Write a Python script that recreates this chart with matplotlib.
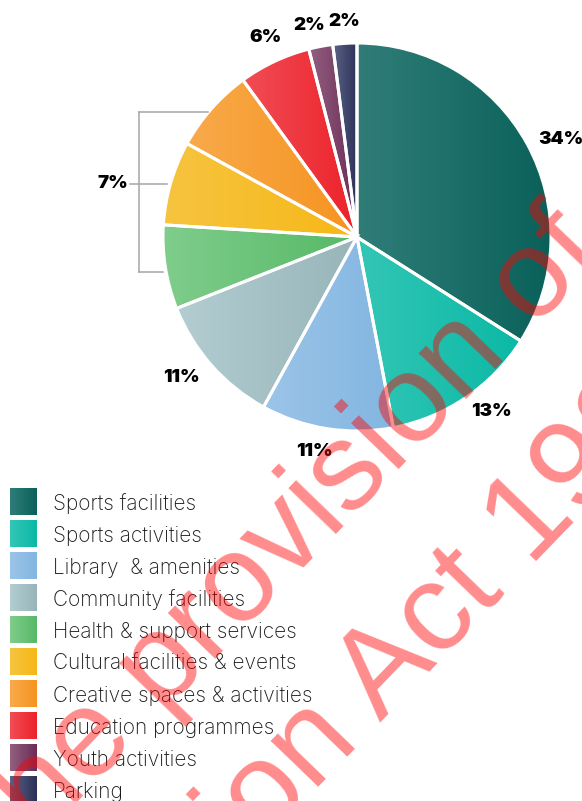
import numpy as np
import matplotlib
matplotlib.use("Agg")
import matplotlib.pyplot as plt
from matplotlib.colors import LinearSegmentedColormap

# ---------------- data ----------------
categories = ["Sports facilities", "Sports activities", "Library  & amenities",
              "Community facilities", "Health & support services",
              "Cultural facilities & events", "Creative spaces & activities",
              "Education programmes", "Youth activities", "Parking"]
shares = [34, 13, 11, 11, 7, 7, 7, 6, 2, 2]
colors_left = ["#307d78", "#33c6b6", "#9cc4e8", "#b3cdd1", "#80cd8c",
               "#f7c440", "#f8aa4b", "#f14d56", "#936080", "#5b6285"]
colors_right = ["#0a615a", "#0bb9a5", "#82b6e1", "#97b5b9", "#56b966",
                "#f6b817", "#f6931f", "#ec2229", "#6b2c57", "#2c3058"]
watermark = ["Released under the provision of", "the Official Information Act 1982"]

# ---------------- figure ----------------
W, H = 582, 801
fig = plt.figure(figsize=(W / 100, H / 100), dpi=100)
fig.patch.set_facecolor("white")

cx, cy, r = 357, 237, 194
pax = fig.add_axes([(cx - r) / W, (H - cy - r) / H, 2 * r / W, 2 * r / H])
wedges, _ = pax.pie(shares, startangle=90, counterclock=False, radius=1,
                    wedgeprops=dict(edgecolor="white", linewidth=2.2))
grad = np.linspace(0, 1, 256).reshape(1, -1)
for w, c1, c2 in zip(wedges, colors_left, colors_right):
    w.set_facecolor("none")
    w.set_zorder(3)
    ext = w.get_path().get_extents()
    cmap = LinearSegmentedColormap.from_list("g", [c1, c2])
    im = pax.imshow(grad, cmap=cmap, extent=[ext.x0, ext.x1, ext.y0, ext.y1],
                    aspect="auto", zorder=2, interpolation="bilinear")
    im.set_clip_path(w)
pax.set_xlim(-1, 1)
pax.set_ylim(-1, 1)
pax.axis("off")

# overlay axes in pixel coordinates
ov = fig.add_axes([0, 0, 1, 1])
ov.patch.set_alpha(0)

label_font = dict(family=["Inter", "DejaVu Sans"], fontweight="black",
                  fontsize=13.5, color="black")
label_pos = {0: (561, 139), 1: (491, 411), 2: (314, 451), 3: (181, 377),
             7: (265, 37), 8: (309, 25), 9: (344, 21)}
for i, (x, y) in label_pos.items():
    ov.text(x, y, f"{shares[i]}%", ha="center", va="center", **label_font)
# bracketed label for the three 7% slices
ov.text(113, 184, f"{shares[5]}%", ha="center", va="center", **label_font)
gray = "#a6a6a6"
ov.plot([139, 208], [112, 112], color=gray, lw=1.1)
ov.plot([139, 139], [112, 272], color=gray, lw=1.1)
ov.plot([139, 163], [272, 272], color=gray, lw=1.1)
ov.plot([130, 167], [183.5, 183.5], color=gray, lw=1.1)

# legend
for k, (cat, c1, c2) in enumerate(zip(categories, colors_left, colors_right)):
    y0 = 488 + 32 * k
    cmap = LinearSegmentedColormap.from_list("g", [c1, c2])
    ov.imshow(grad, cmap=cmap, extent=[10, 37, y0 + 27, y0], aspect="auto",
              interpolation="bilinear", zorder=2)
    ov.text(53, y0 + 16, cat, ha="left", va="center", fontsize=15,
            family=["Inter", "DejaVu Sans"], fontweight="light", color="#1a1a1a")

# watermark
wm = dict(rotation=46, rotation_mode="anchor", va="baseline", ha="right",
          fontsize=90, color="red", alpha=0.45, family="Liberation Sans", zorder=10)
ov.text(606, 255, watermark[0], **wm)
ov.text(723, 368, watermark[1], **wm)

ov.set_xlim(0, W)
ov.set_ylim(H, 0)
ov.axis("off")

fig.savefig("out.png", dpi=100, facecolor="white")
